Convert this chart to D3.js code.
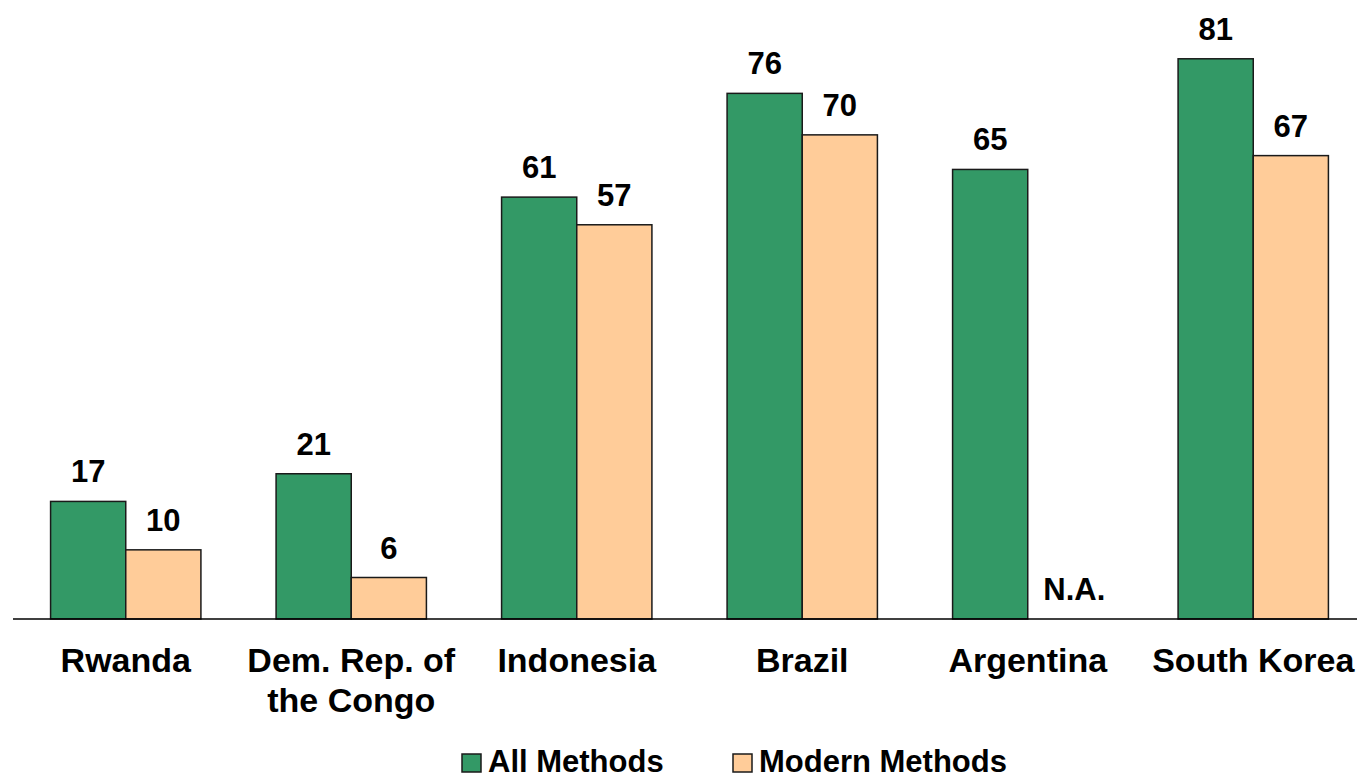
<!DOCTYPE html>
<html>
<head>
<meta charset="utf-8">
<script src="https://cdn.jsdelivr.net/npm/d3@7"></script>
<style>
  body { margin: 0; background: #fff; }
  text { font-family: "Liberation Sans", Arial, sans-serif; font-weight: bold; fill: #000; }
</style>
</head>
<body>
<svg class="chart" width="1357" height="780"></svg>
<script>
// data
var categories = ["Rwanda", "Dem. Rep. of|the Congo", "Indonesia", "Brazil", "Argentina", "South Korea"];
var seriesNames = ["All Methods", "Modern Methods"];
var allMethods = [17, 21, 61, 76, 65, 81];
var modernMethods = [10, 6, 57, 70, null, 67]; // null = N.A.
var colors = ["#339966", "#ffcc99"];

var svg = d3.select(".chart");
var baseY = 619;

var x0 = d3.scaleBand()
    .domain(categories)
    .range([13, 1366])
    .paddingInner(1/3)
    .paddingOuter(1/6);

var x1 = d3.scaleBand()
    .domain(seriesNames)
    .range([0, x0.bandwidth()]);

var y = d3.scaleLinear()
    .domain([0, 89.5])
    .range([baseY, 0]);

// build rows for each bar
var rows = [];
categories.forEach(function(c, i) {
    rows.push({cat: c, series: seriesNames[0], value: allMethods[i], color: colors[0]});
    rows.push({cat: c, series: seriesNames[1], value: modernMethods[i], color: colors[1]});
});

var groups = svg.selectAll(".bar")
    .data(rows)
    .enter().append("g")
    .attr("class", "bar")
    .attr("transform", function(d) { return "translate(" + (x0(d.cat) + x1(d.series)) + ",0)"; });

groups.filter(function(d) { return d.value != null; })
    .append("rect")
    .attr("x", 0)
    .attr("y", function(d) { return y(d.value); })
    .attr("width", x1.bandwidth())
    .attr("height", function(d) { return baseY - y(d.value); })
    .style("fill", function(d) { return d.color; })
    .style("stroke", "#1a1a1a")
    .style("stroke-width", "1.5px");

// value labels (N.A. when no value)
groups.append("text")
    .attr("x", function(d) { return x1.bandwidth() / 2 + (d.value == null ? 9 : 0); })
    .attr("y", function(d) { return y(d.value == null ? 0 : d.value) - 19; })
    .attr("text-anchor", "middle")
    .attr("font-size", "31px")
    .text(function(d) { return d.value == null ? "N.A." : d.value; });

// baseline
svg.append("line")
    .attr("x1", 13).attr("x2", 1357)
    .attr("y1", baseY).attr("y2", baseY)
    .style("stroke", "#000")
    .style("stroke-width", "1.5px");

// category labels
var catLabels = svg.selectAll(".cat")
    .data(categories)
    .enter().append("text")
    .attr("class", "cat")
    .attr("text-anchor", "middle")
    .attr("font-size", "34px")
    .attr("transform", function(d) { return "translate(" + (x0(d) + x0.bandwidth() / 2) + ",672)"; });

catLabels.selectAll("tspan")
    .data(function(d) { return d.split("|"); })
    .enter().append("tspan")
    .attr("x", 0)
    .attr("y", function(d, i) { return i * 40; })
    .text(function(d) { return d; });

// legend (sits right at the bottom edge like the original)
var legendX = [462, 733];
var legend = svg.selectAll(".legend")
    .data(seriesNames)
    .enter().append("g")
    .attr("class", "legend")
    .attr("transform", function(d, i) { return "translate(" + legendX[i] + ",754)"; });

legend.append("rect")
    .attr("width", 19)
    .attr("height", 18)
    .style("fill", function(d, i) { return colors[i]; })
    .style("stroke", "#1a1a1a")
    .style("stroke-width", "1.5px");

legend.append("text")
    .attr("x", 26)
    .attr("y", 18)
    .attr("font-size", "31px")
    .text(function(d) { return d; });
</script>
</body>
</html>
